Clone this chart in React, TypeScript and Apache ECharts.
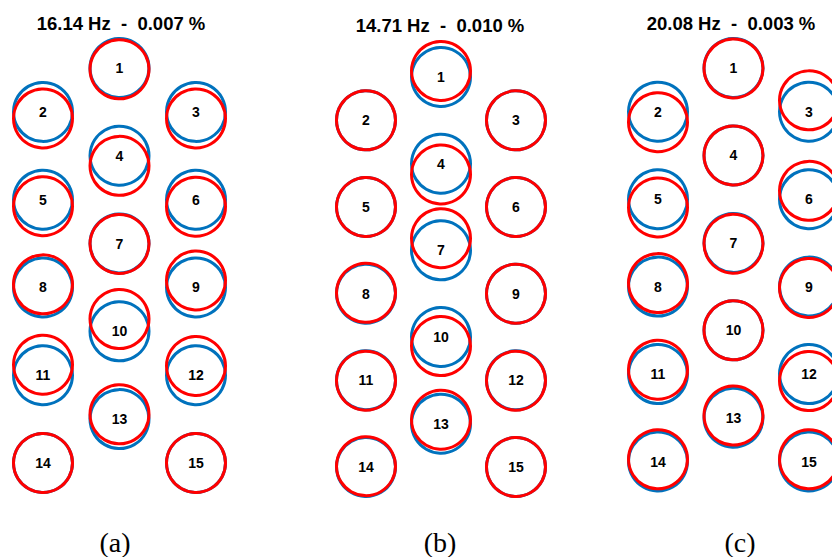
import React, { useEffect, useRef } from "react";
import * as echarts from "echarts";

// Node layout of the structure (column index, half-row index)
const nodeLabels = ["1", "2", "3", "4", "5", "6", "7", "8", "9", "10", "11", "12", "13", "14", "15"];
const nodeCol = [1, 0, 2, 1, 0, 2, 1, 0, 2, 1, 0, 2, 1, 0, 2];
const nodeRow = [0, 1, 1, 2, 3, 3, 4, 5, 5, 6, 7, 7, 8, 9, 9];

// Mode titles and captions
const modeTitles = ["16.14 Hz  -  0.007 %", "14.71 Hz  -  0.010 %", "20.08 Hz  -  0.003 %"];
const captions = ["(a)", "(b)", "(c)"];

// Vertical modal displacement of each node (row units, + = downward)
const modeA = [0.03, 0.15, 0.15, 0.23, 0.15, 0.16, 0.01, -0.07, -0.16, -0.28, -0.24, -0.21, -0.11, 0, 0];
const modeB = [-0.14, 0, 0, 0.25, 0, 0, -0.28, -0.02, 0, 0.21, 0.01, 0.01, -0.09, -0.02, 0];
const modeC = [0.01, 0.24, -0.26, 0, 0.19, -0.19, 0.02, -0.08, 0.03, 0, -0.1, 0.16, -0.05, -0.05, -0.05];
const modes = [modeA, modeB, modeC];

// Panel placement (pixels)
const panels = [
  { x0: 43, x2: 196, y0: 68, y9: 463, titleX: 121, titleY: 23, capX: 115 },
  { x0: 366, x2: 516, y0: 77, y9: 467, titleX: 440, titleY: 25, capX: 440 },
  { x0: 658, x2: 809, y0: 68, y9: 461.5, titleX: 731, titleY: 23, capX: 740 },
];

const BLUE = "#0072BD";
const RED = "#FF0000";

export default function App() {
  const ref = useRef<HTMLDivElement>(null);

  useEffect(() => {
    if (!ref.current) return;
    const chart = echarts.init(ref.current, undefined, { renderer: "svg" });

    const grid: any[] = [];
    const xAxis: any[] = [];
    const yAxis: any[] = [];
    const series: any[] = [];
    const graphic: any[] = [];

    panels.forEach((p, i) => {
      grid.push({ left: p.x0, top: p.y0, width: p.x2 - p.x0, height: p.y9 - p.y0, containLabel: false });
      xAxis.push({ type: "value", gridIndex: i, min: 0, max: 2, show: false });
      yAxis.push({ type: "value", gridIndex: i, min: 0, max: 9, inverse: true, show: false });

      const undeformed = nodeLabels.map((name, k) => ({ name, value: [nodeCol[k], nodeRow[k]] }));
      const deformed = nodeLabels.map((name, k) => ({ name, value: [nodeCol[k], nodeRow[k] + modes[i][k]] }));

      series.push({
        type: "scatter",
        xAxisIndex: i,
        yAxisIndex: i,
        data: undeformed,
        symbol: "circle",
        symbolSize: 59,
        clip: false,
        silent: true,
        z: 2,
        itemStyle: { color: "rgba(0,0,0,0)", borderColor: BLUE, borderWidth: 3, opacity: 1 },
        label: {
          show: true,
          position: "inside",
          formatter: (d: any) => d.name,
          color: "#000",
          opacity: 1,
          fontSize: 14,
          fontWeight: "bold",
          fontFamily: "Liberation Sans, Arial, sans-serif",
        },
      });
      series.push({
        type: "scatter",
        xAxisIndex: i,
        yAxisIndex: i,
        data: deformed,
        symbol: "circle",
        symbolSize: 59,
        clip: false,
        silent: true,
        z: 3,
        itemStyle: { color: "rgba(0,0,0,0)", borderColor: RED, borderWidth: 3, opacity: 1 },
        label: { show: false },
      });

      graphic.push({
        type: "text",
        x: p.titleX,
        y: p.titleY,
        style: {
          text: modeTitles[i],
          fill: "#000",
          fontSize: 18.5,
          fontWeight: "bold",
          fontFamily: "Liberation Sans, Arial, sans-serif",
          align: "center",
          verticalAlign: "middle",
        },
      });
      graphic.push({
        type: "text",
        x: p.capX,
        y: 542,
        style: {
          text: captions[i],
          fill: "#000",
          fontSize: 28,
          fontFamily: "Liberation Serif, Times New Roman, serif",
          align: "center",
          verticalAlign: "middle",
        },
      });
    });

    chart.setOption({
      animation: false,
      backgroundColor: "#fff",
      grid,
      xAxis,
      yAxis,
      series,
      graphic,
    });

    return () => chart.dispose();
  }, []);

  return (
    <div
      ref={ref}
      style={{ position: "absolute", left: 0, top: 0, width: 832, height: 557, background: "#fff" }}
    />
  );
}
